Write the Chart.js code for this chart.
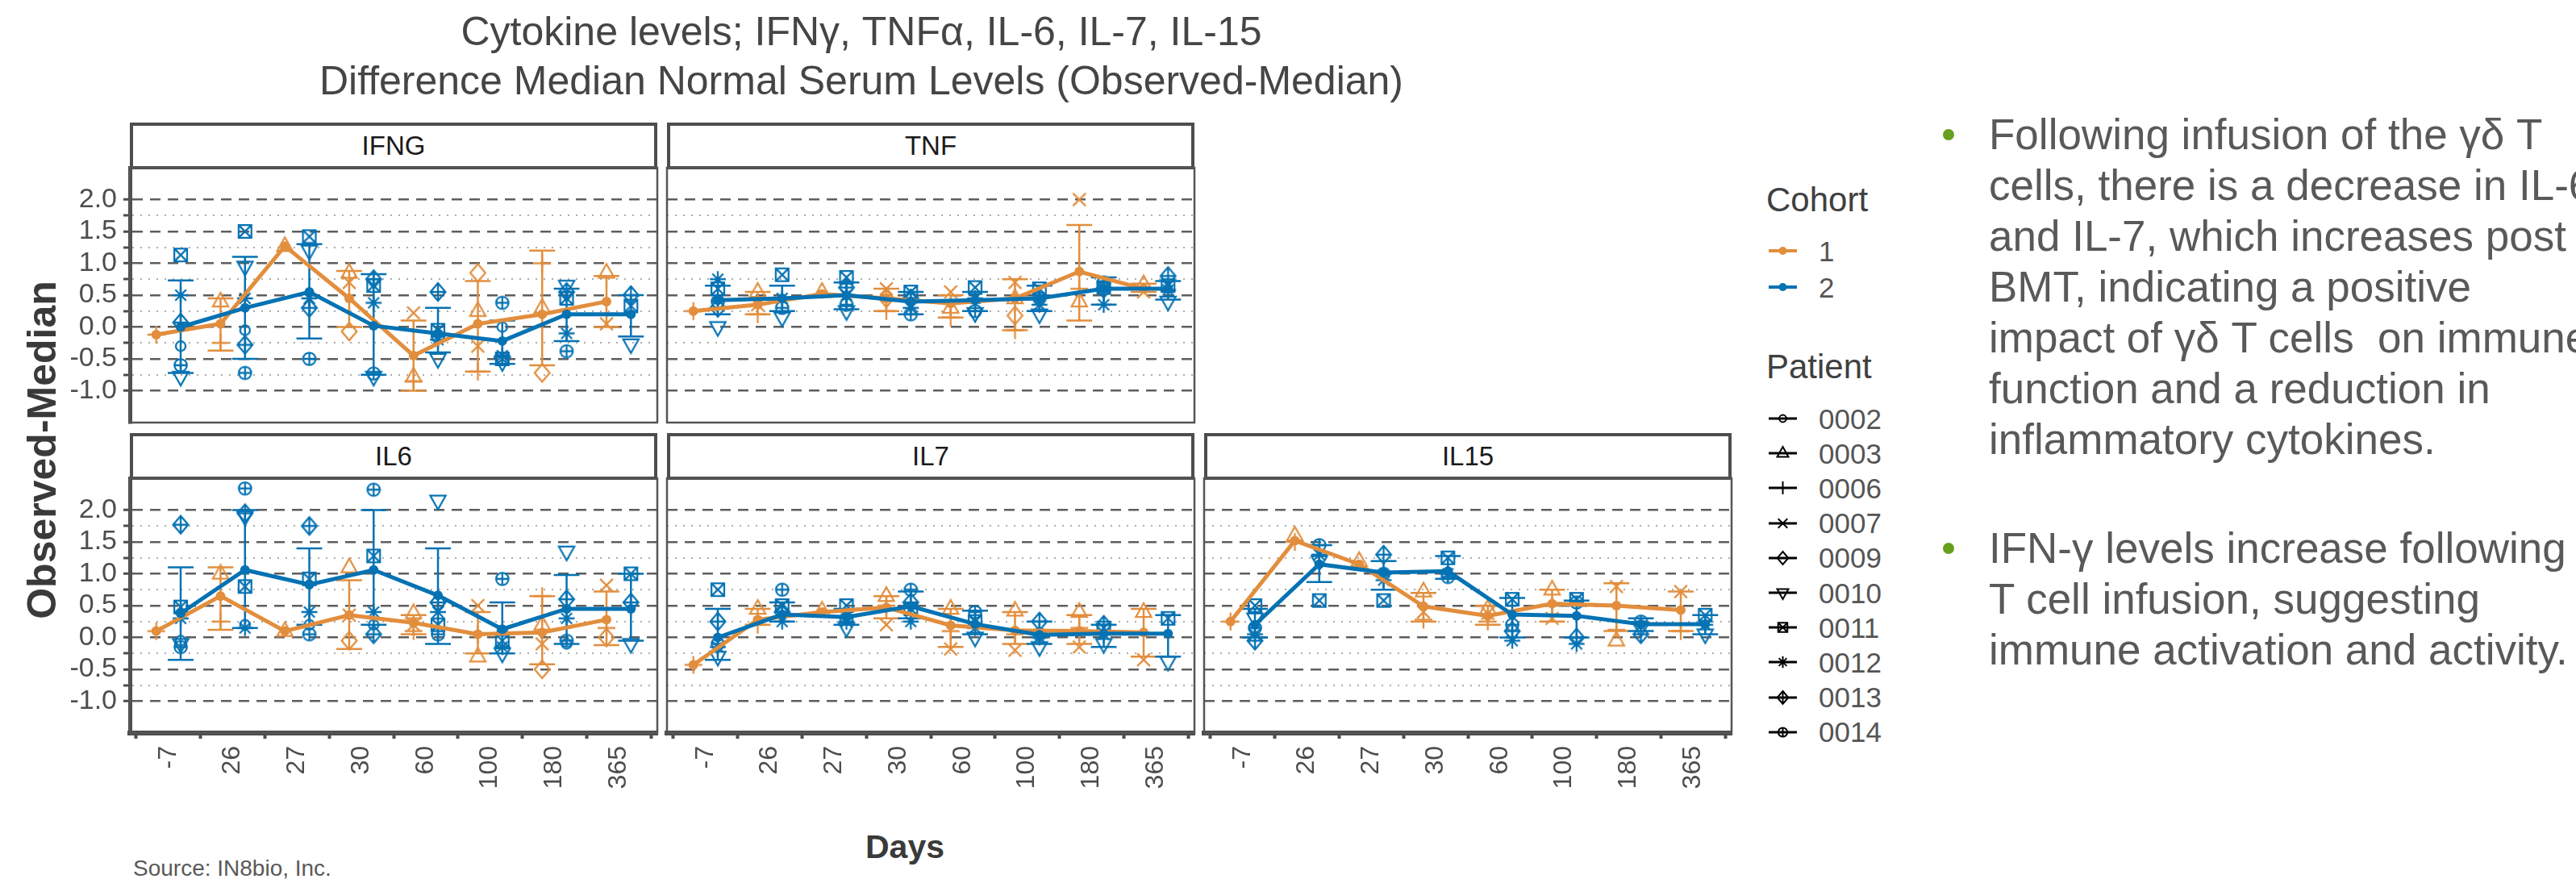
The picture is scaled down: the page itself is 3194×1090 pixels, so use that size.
<!DOCTYPE html>
<html><head><meta charset="utf-8">
<script src="https://cdn.jsdelivr.net/npm/chart.js@4.4.1/dist/chart.umd.min.js"></script>
<style>
html,body{margin:0;padding:0;width:3194px;height:1090px;overflow:hidden;background:#fff;font-family:"Liberation Sans",Arial,sans-serif;position:relative;}
.strip{position:absolute;box-sizing:border-box;border:4px solid #4D4D4D;background:#fff;display:flex;align-items:center;justify-content:center;font-size:33px;color:#1A1A1A;}
.title{position:absolute;left:268px;top:9px;width:1600px;text-align:center;font-size:50px;line-height:61px;color:#454545;white-space:nowrap;}
.ytitle{position:absolute;left:52px;top:558px;transform:translate(-50%,-50%) rotate(-90deg);font-size:50px;font-weight:bold;color:#3A3A3A;white-space:nowrap;}
.xtitle{position:absolute;left:1122px;top:1050px;transform:translate(-50%,-50%);font-size:41px;font-weight:bold;color:#3A3A3A;}
.source{position:absolute;left:165px;top:1077px;transform:translateY(-50%);font-size:28px;color:#595959;white-space:nowrap;}
.lgtitle{position:absolute;left:2190px;font-size:42px;line-height:42px;color:#404040;}
.lgrow{position:absolute;left:2190px;height:40px;display:flex;align-items:center;}
.lgrow canvas{width:40px;height:30px;}
.lgrow span{position:absolute;left:65px;font-size:35px;line-height:35px;color:#555;}
.bullets{position:absolute;left:2466px;font-size:53px;line-height:63px;color:#595959;white-space:nowrap;}
.dot{position:absolute;width:14px;height:14px;border-radius:50%;background:#66A01E;}
</style>
</head>
<body>
<div class="title">Cytokine levels; IFNγ, TNFα, IL-6, IL-7, IL-15<br>Difference Median Normal Serum Levels (Observed-Median)</div>
<div class="ytitle">Observed-Median</div>
<div class="xtitle">Days</div>
<div class="source">Source: IN8bio, Inc.</div>
<div class="dot" style="left:2409px;top:160px"></div>
<div class="bullets" style="top:135px">Following infusion of the γδ T<br>cells, there is a decrease in IL-6<br>and IL-7, which increases post<br>BMT, indicating a positive<br>impact of γδ T cells&nbsp; on immune<br>function and a reduction in<br>inflammatory cytokines.</div>
<div class="dot" style="left:2409px;top:673px"></div>
<div class="bullets" style="top:648px">IFN-γ levels increase following γδ<br>T cell infusion, suggesting<br>immune activation and activity.</div>
<script>
// ---------- axis / category data ----------
const DAYS = ['-7','26','27','30','60','100','180','365'];
const X_TICKS = [-0.5,0,0.5,1,1.5,2,2.5,3,3.5,4,4.5,5,5.5,6,6.5,7,7.5];
const Y_TICKS = [-1.5,-1.25,-1,-0.75,-0.5,-0.25,0,0.25,0.5,0.75,1,1.25,1.5,1.75,2,2.25,2.5];
const COHORTS = ['1','2'];
const PATIENTS = ['0002','0003','0006','0007','0009','0010','0011','0012','0013','0014'];
const PANELS = ['IFNG','TNF','IL6','IL7','IL15'];

// ---------- IFNG ----------
const IFNG_C1_MED = [-0.12, 0.05, 1.27, 0.45, -0.45, 0.05, 0.2, 0.4];
const IFNG_C1_LO  = [null, -0.37, null, 0.0, -1.0, -0.7, -0.6, 0.0];
const IFNG_C1_HI  = [null, 0.45, null, 0.88, 0.1, 0.72, 1.2, 0.8];
const IFNG_C2_MED = [0.0, 0.3, 0.55, 0.02, -0.1, -0.22, 0.2, 0.2];
const IFNG_C2_LO  = [-0.72, -0.5, -0.18, -0.75, -0.4, -0.58, -0.22, -0.15];
const IFNG_C2_HI  = [0.73, 1.1, 1.3, 0.83, 0.3, 0.1, 0.6, 0.5];
const IFNG_C1_PTS = [[0,-0.12,'0006'],[1,0.4,'0003'],[1,-0.25,'0006'],[2,1.27,'0003'],
  [3,0.85,'0003'],[3,0.7,'0007'],[3,-0.07,'0009'],[4,0.22,'0007'],[4,-0.78,'0003'],[4,-0.85,'0006'],
  [5,0.85,'0009'],[5,0.25,'0003'],[5,-0.3,'0007'],[5,-0.7,'0006'],[6,1.0,'0006'],[6,0.3,'0003'],[6,-0.72,'0009'],
  [7,0.85,'0003'],[7,0.05,'0007']];
const IFNG_C2_PTS = [[0,1.13,'0011'],[0,0.5,'0012'],[0,0.07,'0013'],[0,-0.3,'0002'],[0,-0.6,'0014'],[0,-0.78,'0010'],
  [1,1.5,'0011'],[1,0.95,'0010'],[1,0.45,'0012'],[1,-0.05,'0002'],[1,-0.28,'0013'],[1,-0.72,'0014'],
  [2,1.42,'0011'],[2,1.2,'0010'],[2,0.45,'0012'],[2,0.3,'0013'],[2,-0.5,'0014'],
  [3,0.75,'0013'],[3,0.65,'0011'],[3,0.38,'0012'],[3,-0.73,'0014'],[3,-0.78,'0010'],
  [4,0.55,'0013'],[4,-0.05,'0011'],[4,-0.15,'0014'],[4,-0.2,'0012'],[4,-0.5,'0010'],
  [5,0.38,'0014'],[5,0.0,'0002'],[5,-0.45,'0012'],[5,-0.5,'0011'],[5,-0.55,'0010'],
  [6,0.65,'0010'],[6,0.55,'0013'],[6,0.45,'0011'],[6,-0.1,'0012'],[6,-0.38,'0014'],
  [7,0.5,'0013'],[7,0.33,'0011'],[7,-0.27,'0010']];

// ---------- TNF ----------
const TNF_C1_MED = [0.25, 0.35, 0.52, 0.45, 0.37, 0.45, 0.87, 0.6];
const TNF_C1_LO  = [null, 0.2, null, 0.25, 0.15, -0.05, 0.1, 0.55];
const TNF_C1_HI  = [null, 0.55, null, 0.6, 0.5, 0.75, 1.6, 0.68];
const TNF_C2_MED = [0.42, 0.45, 0.5, 0.4, 0.42, 0.45, 0.6, 0.6];
const TNF_C2_LO  = [0.2, 0.25, 0.28, 0.2, 0.25, 0.25, 0.35, 0.43];
const TNF_C2_HI  = [0.65, 0.65, 0.7, 0.55, 0.55, 0.65, 0.78, 0.72];
const TNF_C1_PTS = [[0,0.25,'0006'],[1,0.55,'0003'],[1,0.35,'0007'],[1,0.2,'0006'],[2,0.55,'0003'],
  [3,0.6,'0007'],[3,0.45,'0009'],[3,0.25,'0006'],[4,0.55,'0007'],[4,0.3,'0003'],[4,0.15,'0006'],
  [5,0.7,'0007'],[5,0.45,'0003'],[5,0.18,'0009'],[5,-0.05,'0006'],[6,2.0,'0007'],[6,0.6,'0006'],[6,0.4,'0003'],
  [7,0.67,'0003'],[7,0.55,'0007']];
const TNF_C2_PTS = [[0,0.75,'0012'],[0,0.6,'0011'],[0,0.4,'0014'],[0,0.3,'0013'],[0,0.0,'0010'],
  [1,0.82,'0011'],[1,0.45,'0012'],[1,0.3,'0014'],[1,0.15,'0010'],
  [2,0.78,'0011'],[2,0.62,'0013'],[2,0.5,'0012'],[2,0.35,'0014'],[2,0.25,'0010'],
  [3,0.55,'0011'],[3,0.45,'0013'],[3,0.3,'0012'],[3,0.2,'0014'],
  [4,0.62,'0011'],[4,0.45,'0012'],[4,0.25,'0014'],[4,0.22,'0010'],
  [5,0.6,'0011'],[5,0.45,'0014'],[5,0.35,'0012'],[5,0.2,'0010'],
  [6,0.7,'0014'],[6,0.62,'0011'],[6,0.6,'0013'],[6,0.35,'0012'],
  [7,0.8,'0013'],[7,0.65,'0011'],[7,0.58,'0012'],[7,0.4,'0010']];

// ---------- IL6 ----------
const IL6_C1_MED = [0.1, 0.65, 0.1, 0.35, 0.23, 0.05, 0.08, 0.28];
const IL6_C1_LO  = [null, 0.12, null, -0.18, 0.05, -0.25, -0.42, -0.12];
const IL6_C1_HI  = [null, 1.1, null, 0.9, 0.35, 0.4, 0.65, 0.72];
const IL6_C2_MED = [0.38, 1.06, 0.83, 1.06, 0.66, 0.13, 0.45, 0.45];
const IL6_C2_LO  = [-0.35, 0.15, 0.2, 0.2, -0.1, -0.25, -0.1, -0.05];
const IL6_C2_HI  = [1.1, 2.0, 1.4, 2.0, 1.4, 0.55, 0.98, 1.0];
const IL6_C1_PTS = [[0,0.1,'0006'],[1,1.0,'0003'],[1,0.25,'0006'],[2,0.1,'0003'],
  [3,1.1,'0003'],[3,0.35,'0007'],[3,-0.05,'0009'],[4,0.38,'0003'],[4,0.2,'0007'],[4,0.1,'0006'],
  [5,0.5,'0007'],[5,0.05,'0006'],[5,-0.3,'0003'],[6,0.65,'0006'],[6,0.2,'0003'],[6,-0.1,'0007'],[6,-0.5,'0009'],
  [7,0.82,'0007'],[7,0.15,'0006'],[7,0.0,'0009']];
const IL6_C2_PTS = [[0,1.77,'0013'],[0,0.48,'0011'],[0,0.3,'0012'],[0,-0.05,'0002'],[0,-0.1,'0010'],[0,-0.15,'0014'],
  [1,2.34,'0014'],[1,1.95,'0013'],[1,1.9,'0010'],[1,0.8,'0011'],[1,0.2,'0002'],[1,0.15,'0012'],
  [2,1.75,'0013'],[2,0.92,'0011'],[2,0.4,'0012'],[2,0.2,'0002'],[2,0.05,'0014'],
  [3,2.32,'0014'],[3,1.28,'0011'],[3,0.4,'0012'],[3,0.2,'0002'],[3,0.05,'0013'],
  [4,2.15,'0010'],[4,0.55,'0013'],[4,0.4,'0012'],[4,0.2,'0011'],[4,0.05,'0014'],
  [5,0.92,'0014'],[5,0.1,'0002'],[5,-0.05,'0011'],[5,-0.15,'0012'],[5,-0.25,'0010'],
  [6,1.35,'0010'],[6,0.6,'0013'],[6,0.3,'0012'],[6,-0.05,'0014'],[6,-0.1,'0002'],
  [7,1.0,'0011'],[7,0.55,'0013'],[7,-0.1,'0010']];

// ---------- IL7 ----------
const IL7_C1_MED = [-0.43, 0.28, 0.4, 0.47, 0.19, 0.11, 0.1, 0.08];
const IL7_C1_LO  = [null, 0.2, null, 0.3, -0.15, -0.1, -0.1, -0.3];
const IL7_C1_HI  = [null, 0.45, null, 0.65, 0.45, 0.4, 0.35, 0.45];
const IL7_C2_MED = [0.0, 0.36, 0.32, 0.49, 0.21, 0.04, 0.06, 0.06];
const IL7_C2_LO  = [-0.35, 0.25, 0.2, 0.3, 0.05, -0.1, -0.15, -0.3];
const IL7_C2_HI  = [0.45, 0.55, 0.45, 0.72, 0.42, 0.25, 0.2, 0.35];
const IL7_C1_PTS = [[0,-0.43,'0006'],[1,0.45,'0003'],[1,0.2,'0006'],[2,0.42,'0003'],
  [3,0.65,'0003'],[3,0.5,'0006'],[3,0.2,'0007'],[4,0.45,'0003'],[4,0.1,'0006'],[4,-0.18,'0007'],
  [5,0.42,'0003'],[5,0.05,'0006'],[5,-0.2,'0007'],[6,0.4,'0003'],[6,0.15,'0006'],[6,-0.15,'0007'],
  [7,0.4,'0003'],[7,-0.35,'0007']];
const IL7_C2_PTS = [[0,0.75,'0011'],[0,0.25,'0013'],[0,-0.1,'0014'],[0,-0.15,'0012'],[0,-0.3,'0010'],
  [1,0.75,'0014'],[1,0.5,'0011'],[1,0.4,'0013'],[1,0.25,'0012'],
  [2,0.5,'0011'],[2,0.3,'0014'],[2,0.25,'0012'],[2,0.15,'0010'],
  [3,0.75,'0014'],[3,0.55,'0013'],[3,0.45,'0011'],[3,0.25,'0012'],
  [4,0.4,'0014'],[4,0.25,'0011'],[4,0.15,'0012'],[4,0.0,'0010'],
  [5,0.25,'0013'],[5,0.05,'0014'],[5,0.0,'0012'],[5,-0.15,'0010'],
  [6,0.2,'0013'],[6,0.15,'0011'],[6,0.05,'0012'],[6,-0.1,'0010'],
  [7,0.3,'0011'],[7,-0.38,'0010']];

// ---------- IL15 ----------
const IL15_C1_MED = [0.25, 1.52, 1.15, 0.49, 0.34, 0.53, 0.5, 0.43];
const IL15_C1_LO  = [null, null, null, 0.25, 0.2, 0.25, 0.1, 0.1];
const IL15_C1_HI  = [null, null, null, 0.7, 0.5, 0.75, 0.85, 0.72];
const IL15_C2_MED = [0.2, 1.15, 1.02, 1.04, 0.36, 0.34, 0.21, 0.21];
const IL15_C2_LO  = [0.0, 0.87, 0.75, 0.92, 0.0, 0.0, 0.1, 0.05];
const IL15_C2_HI  = [0.45, 1.45, 1.2, 1.28, 0.62, 0.58, 0.3, 0.35];
const IL15_C1_PTS = [[0,0.25,'0006'],[1,1.6,'0003'],[1,1.5,'0006'],[2,1.2,'0003'],
  [3,0.72,'0003'],[3,0.4,'0007'],[3,0.28,'0006'],[4,0.45,'0003'],[4,0.38,'0007'],[4,0.25,'0006'],
  [5,0.75,'0003'],[5,0.5,'0006'],[5,0.3,'0007'],[6,0.8,'0007'],[6,0.12,'0006'],[6,-0.05,'0003'],
  [7,0.72,'0007'],[7,0.1,'0006']];
const IL15_C2_PTS = [[0,0.5,'0011'],[0,0.3,'0010'],[0,0.15,'0014'],[0,0.05,'0012'],[0,-0.05,'0013'],
  [1,1.45,'0014'],[1,1.3,'0012'],[1,1.2,'0010'],[1,0.58,'0011'],
  [2,1.3,'0013'],[2,1.0,'0014'],[2,0.9,'0012'],[2,0.58,'0011'],
  [3,1.25,'0011'],[3,1.0,'0012'],[3,0.95,'0014'],
  [4,0.6,'0011'],[4,0.2,'0014'],[4,0.1,'0013'],[4,-0.05,'0012'],
  [5,0.6,'0011'],[5,0.55,'0014'],[5,0.0,'0013'],[5,-0.1,'0012'],
  [6,0.25,'0014'],[6,0.15,'0010'],[6,0.05,'0013'],
  [7,0.35,'0011'],[7,0.2,'0012'],[7,0.05,'0010']];

// ---------- styles / layout ----------
const COLORS = {'1':'#E28E3D','2':'#0572B3'};
const SHAPE_OF = {'0002':'circle','0003':'tri','0006':'plus','0007':'cross','0009':'diamond',
  '0010':'triDown','0011':'boxX','0012':'star','0013':'diamondPlus','0014':'circlePlus'};
const COL_LEFT = [161, 827, 1493], PLOT_W = 654, PLOT_H = 316;
const STRIP_TOP = [152, 537], STRIP_H = 56;
const DODGE = 0.19, CAP = 0.2;
const FONT = "'Liberation Sans', Arial, sans-serif";
Chart.defaults.font.family = FONT;

function drawShape(g, shape, cx, cy, r) {
  g.beginPath();
  const d = r * 0.72;
  const plus = (s) => { g.moveTo(cx - s, cy); g.lineTo(cx + s, cy); g.moveTo(cx, cy - s); g.lineTo(cx, cy + s); };
  const cross = (s) => { g.moveTo(cx - s, cy - s); g.lineTo(cx + s, cy + s); g.moveTo(cx - s, cy + s); g.lineTo(cx + s, cy - s); };
  const diamond = () => { g.moveTo(cx, cy - r); g.lineTo(cx + r * 0.85, cy); g.lineTo(cx, cy + r); g.lineTo(cx - r * 0.85, cy); g.closePath(); };
  switch (shape) {
    case 'circle': g.arc(cx, cy, r * 0.55, 0, Math.PI * 2); break;
    case 'tri': g.moveTo(cx, cy - r); g.lineTo(cx + r * 0.87, cy + r * 0.55); g.lineTo(cx - r * 0.87, cy + r * 0.55); g.closePath(); break;
    case 'triDown': g.moveTo(cx, cy + r); g.lineTo(cx + r * 0.87, cy - r * 0.55); g.lineTo(cx - r * 0.87, cy - r * 0.55); g.closePath(); break;
    case 'plus': plus(r); break;
    case 'cross': cross(d); break;
    case 'diamond': diamond(); break;
    case 'boxX': g.rect(cx - d, cy - d, 2 * d, 2 * d); cross(d); break;
    case 'star': plus(r * 0.9); cross(d * 0.85); break;
    case 'diamondPlus': diamond(); plus(r * 0.85); break;
    case 'circlePlus': g.arc(cx, cy, r * 0.7, 0, Math.PI * 2); g.moveTo(cx + r * 0.7, cy); plus(r * 0.7); break;
  }
  g.stroke();
}
const SHAPE_IMG = {};
COHORTS.forEach(c => {
  SHAPE_IMG[c] = {};
  PATIENTS.forEach(p => {
    const cv = document.createElement('canvas'); cv.width = 32; cv.height = 32;
    const g = cv.getContext('2d'); g.strokeStyle = COLORS[c]; g.lineWidth = 2.3;
    drawShape(g, SHAPE_OF[p], 16, 16, 11);
    SHAPE_IMG[c][p] = cv;
  });
});

const isMajor = v => Math.abs(v * 2 - Math.round(v * 2)) < 1e-6;
const inRange = v => v >= -1.001 && v <= 2.001;

const panelBorder = {
  id: 'panelBorder',
  afterDraw(chart) {
    const {ctx, chartArea: a} = chart;
    ctx.save(); ctx.strokeStyle = '#555'; ctx.lineWidth = 2.5;
    ctx.strokeRect(a.left, a.top, a.right - a.left, a.bottom - a.top);
    ctx.restore();
  }
};

function lineData(med, off) { return med.map((v, i) => ({x: i + off, y: v})); }
function errData(lo, hi, off) {
  const out = [];
  lo.forEach((l, i) => {
    const h = hi[i];
    if (l === null || h === null) return;
    const x = i + off;
    out.push({x, y: l}, {x, y: h}, {x, y: null},
             {x: x - CAP, y: h}, {x: x + CAP, y: h}, {x, y: null},
             {x: x - CAP, y: l}, {x: x + CAP, y: l}, {x, y: null});
  });
  return out;
}
function ptsData(pts, off) { return pts.map(p => ({x: p[0] + off, y: p[1], pid: p[2]})); }

function makePanel(name, col, row, c1, c2) {
  const showY = col === 0, showX = row === 1;
  const plotL = COL_LEFT[col], plotT = STRIP_TOP[row] + STRIP_H;
  const WY = showY ? 150 : 0, HX = showX ? 85 : 0, M = 8;
  const s = document.createElement('div');
  s.className = 'strip';
  s.style.cssText = `left:${plotL}px;top:${STRIP_TOP[row]}px;width:${PLOT_W}px;height:${STRIP_H + 2}px`;
  s.textContent = name;
  document.body.appendChild(s);
  const cv = document.createElement('canvas');
  const W = PLOT_W + WY + 2 * M, H = PLOT_H + HX + 2 * M;
  cv.width = W; cv.height = H;
  cv.style.cssText = `position:absolute;left:${plotL - WY - M}px;top:${plotT - M}px;width:${W}px;height:${H}px`;
  document.body.appendChild(cv);

  const lineDs = (c, d, off) => ({
    type: 'line', data: lineData(d.med, off), borderColor: COLORS[c], backgroundColor: COLORS[c],
    borderWidth: 5, pointRadius: 6, pointBackgroundColor: COLORS[c], pointBorderWidth: 0, tension: 0
  });
  const errDs = (c, d, off) => ({
    type: 'line', data: errData(d.lo, d.hi, off), borderColor: COLORS[c], borderWidth: 2.5,
    pointRadius: 0, spanGaps: false, tension: 0
  });
  const ptDs = (c, d, off) => ({
    type: 'scatter', data: ptsData(d.pts, off), pointRadius: 10,
    pointStyle: ctx => SHAPE_IMG[c][(ctx.raw && ctx.raw.pid) || '0002']
  });

  new Chart(cv, {
    type: 'line',
    data: { datasets: [
      lineDs('2', c2, DODGE), lineDs('1', c1, -DODGE),
      errDs('2', c2, DODGE), errDs('1', c1, -DODGE),
      ptDs('2', c2, DODGE), ptDs('1', c1, -DODGE)
    ]},
    options: {
      responsive: false, animation: false, devicePixelRatio: 1, events: [],
      layout: { padding: M, autoPadding: false },
      plugins: { legend: {display: false}, tooltip: {enabled: false}, title: {display: false} },
      scales: {
        x: {
          type: 'linear', min: -0.6, max: 7.6,
          afterBuildTicks: sc => { sc.ticks = X_TICKS.map(v => ({value: v})); },
          ticks: { display: showX, autoSkip: false, minRotation: 90, maxRotation: 90, padding: 9,
            font: {size: 32, family: FONT}, color: '#4D4D4D',
            callback: v => Number.isInteger(v) ? DAYS[v] : '' },
          grid: { drawOnChartArea: false, drawTicks: showX, tickLength: 7, tickWidth: 4,
            tickColor: ctx => (ctx.tick && !Number.isInteger(ctx.tick.value)) ? '#4D4D4D' : 'rgba(0,0,0,0)' },
          border: { display: showX, width: 6, color: '#4D4D4D' },
          afterFit: sc => { sc.height = HX; sc.paddingLeft = 0; sc.paddingRight = 0; }
        },
        y: {
          type: 'linear', min: -1.5, max: 2.5,
          afterBuildTicks: sc => { sc.ticks = Y_TICKS.map(v => ({value: v})); },
          ticks: { display: showY, autoSkip: false, padding: 8, font: {size: 34, family: FONT}, color: '#4D4D4D',
            callback: v => (isMajor(v) && inRange(v)) ? v.toFixed(1) : '' },
          grid: {
            drawTicks: showY, tickLength: 8, tickWidth: 3,
            tickColor: ctx => (ctx.tick && inRange(ctx.tick.value)) ? '#4D4D4D' : 'rgba(0,0,0,0)',
            tickBorderDash: [],
            color: ctx => {
              if (!ctx.tick || !inRange(ctx.tick.value)) return 'rgba(0,0,0,0)';
              return isMajor(ctx.tick.value) ? '#5E5E5E' : '#ABABAB';
            },
            lineWidth: ctx => (ctx.tick && isMajor(ctx.tick.value)) ? 2.5 : 2
          },
          border: { display: showY, width: 5, color: '#4D4D4D',
            dash: ctx => !ctx.tick ? [] : (isMajor(ctx.tick.value) ? [13, 9] : [2, 8]) },
          afterFit: sc => { sc.width = WY; sc.paddingTop = 0; sc.paddingBottom = 0; }
        }
      }
    },
    plugins: [panelBorder]
  });
}

makePanel(PANELS[0], 0, 0,
  {med: IFNG_C1_MED, lo: IFNG_C1_LO, hi: IFNG_C1_HI, pts: IFNG_C1_PTS},
  {med: IFNG_C2_MED, lo: IFNG_C2_LO, hi: IFNG_C2_HI, pts: IFNG_C2_PTS});
makePanel(PANELS[1], 1, 0,
  {med: TNF_C1_MED, lo: TNF_C1_LO, hi: TNF_C1_HI, pts: TNF_C1_PTS},
  {med: TNF_C2_MED, lo: TNF_C2_LO, hi: TNF_C2_HI, pts: TNF_C2_PTS});
makePanel(PANELS[2], 0, 1,
  {med: IL6_C1_MED, lo: IL6_C1_LO, hi: IL6_C1_HI, pts: IL6_C1_PTS},
  {med: IL6_C2_MED, lo: IL6_C2_LO, hi: IL6_C2_HI, pts: IL6_C2_PTS});
makePanel(PANELS[3], 1, 1,
  {med: IL7_C1_MED, lo: IL7_C1_LO, hi: IL7_C1_HI, pts: IL7_C1_PTS},
  {med: IL7_C2_MED, lo: IL7_C2_LO, hi: IL7_C2_HI, pts: IL7_C2_PTS});
makePanel(PANELS[4], 2, 1,
  {med: IL15_C1_MED, lo: IL15_C1_LO, hi: IL15_C1_HI, pts: IL15_C1_PTS},
  {med: IL15_C2_MED, lo: IL15_C2_LO, hi: IL15_C2_HI, pts: IL15_C2_PTS});

// ---------- legend ----------
function addTitle(text, baseline) {
  const d = document.createElement('div'); d.className = 'lgtitle';
  d.style.top = (baseline - 36) + 'px'; d.textContent = text; document.body.appendChild(d);
}
function addRow(label, centerY, draw) {
  const r = document.createElement('div'); r.className = 'lgrow'; r.style.top = (centerY - 20) + 'px';
  const cv = document.createElement('canvas'); cv.width = 40; cv.height = 30;
  const g = cv.getContext('2d'); draw(g);
  const sp = document.createElement('span'); sp.textContent = label;
  r.appendChild(cv); r.appendChild(sp); document.body.appendChild(r);
}
addTitle('Cohort', 263);
COHORTS.forEach((c, k) => addRow(c, 311 + 45 * k, g => {
  g.strokeStyle = COLORS[c]; g.lineWidth = 4; g.beginPath(); g.moveTo(3, 15); g.lineTo(38, 15); g.stroke();
  g.fillStyle = COLORS[c]; g.beginPath(); g.arc(20.5, 15, 5, 0, Math.PI * 2); g.fill();
}));
addTitle('Patient', 470);
PATIENTS.forEach((p, k) => addRow(p, 519 + 43.2 * k, g => {
  g.strokeStyle = '#000'; g.lineWidth = 3; g.beginPath(); g.moveTo(3, 15); g.lineTo(38, 15); g.stroke();
  g.lineWidth = 2; drawShape(g, SHAPE_OF[p], 20.5, 15, 8);
}));
</script>
</body></html>
